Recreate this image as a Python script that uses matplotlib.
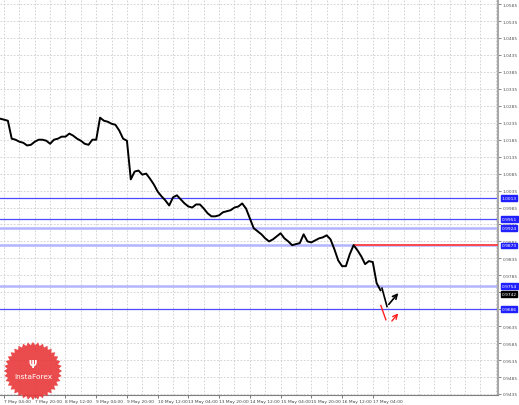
import numpy as np
import matplotlib.pyplot as plt
from matplotlib.patches import Polygon

# closing prices, one point every 2 hours (7 May 02:00 ... 17 May 08:00)
closes = [1.0247, 1.0244, 1.0241, 1.0188, 1.0185, 1.0179, 1.0176, 1.0168, 1.0170, 1.0179,
          1.0185, 1.0185, 1.0182, 1.0173, 1.0185, 1.0188, 1.0194, 1.0194, 1.0203, 1.0197,
          1.0188, 1.0182, 1.0173, 1.0170, 1.0185, 1.0185, 1.0250, 1.0241, 1.0238, 1.0232,
          1.0229, 1.0212, 1.0188, 1.0182, 1.0068, 1.0091, 1.0094, 1.0082, 1.0085, 1.0070,
          1.0053, 1.0032, 1.0018, 1.0006, 0.9991, 1.0015, 1.0021, 1.0009, 0.9997, 0.9988,
          0.9985, 0.9994, 0.9994, 0.9982, 0.9968, 0.9959, 0.9959, 0.9962, 0.9971, 0.9974,
          0.9977, 0.9985, 0.9988, 0.9997, 0.9982, 0.9953, 0.9924, 0.9915, 0.9906, 0.9894,
          0.9885, 0.9891, 0.9900, 0.9909, 0.9894, 0.9885, 0.9874, 0.9877, 0.9880, 0.9906,
          0.9885, 0.9882, 0.9888, 0.9894, 0.9897, 0.9903, 0.9891, 0.9862, 0.9829, 0.9812,
          0.9812, 0.9847, 0.9874, 0.9859, 0.9841, 0.9818, 0.9827, 0.9824, 0.9762, 0.9741]

time_labels = ['7 May 04:00', '7 May 20:00', '8 May 12:00', '9 May 04:00', '9 May 20:00',
               '10 May 12:00', '13 May 04:00', '13 May 20:00', '14 May 12:00', '15 May 04:00',
               '15 May 20:00', '16 May 12:00', '17 May 04:00']
label_pos = [1, 9, 17, 25, 33, 41, 49, 57, 65, 73, 81, 89, 97]

levels = [1.0013, 0.9951, 0.9924, 0.9873, 0.9754, 0.9686]
level_strong = [True, True, False, False, False, True]
resist_level = 0.9873
resist_start = 92
last_price = 0.9742

# forecast arrows
black_x = [99.4, 100.7, 104.1]
black_y = [0.9747, 0.9693, 0.9739]
red1_x = [99.1, 100.4]
red1_y = [0.9696, 0.9654]
red2_x = [101.5, 104.1]
red2_y = [0.9644, 0.9679]

yticks = np.arange(0.9435, 1.0586, 0.005)

fig = plt.figure(figsize=(5.19, 4.06), dpi=100)
ax = fig.add_axes([0, 10/406, 498/519, 396/406])

ax.set_xlim(-0.05, 129.6)
ax.set_ylim(0.9432, 1.0600)

# grid
for y in yticks:
    ax.axhline(y, color='#cccccc', lw=0.6, ls=(0, (2, 2)), zorder=0)
for x in np.arange(1, 130, 4):
    ax.axvline(x, color='#cccccc', lw=0.6, ls=(0, (2, 2)), zorder=0)

# support / resistance levels
for lv, strong in zip(levels, level_strong):
    if strong:
        ax.axhline(lv, color='#4a4aff', lw=0.9, zorder=2)
    else:
        ax.axhline(lv, color='#b4b4ff', lw=1.8, zorder=2)
ax.plot([resist_start, 129.6], [resist_level, resist_level], color='#ff4040', lw=1.3, zorder=3)

ax.plot(range(len(closes)), closes, color='black', lw=1.4, zorder=4)

ax.annotate('', xy=(black_x[2], black_y[2]), xytext=(black_x[1], black_y[1]),
            arrowprops=dict(arrowstyle='->', color='black', lw=1.2, mutation_scale=8), zorder=5)
ax.plot(black_x[:2], black_y[:2], color='black', lw=1.2, zorder=5)
ax.plot(red1_x, red1_y, color='#ff2020', lw=1.0, zorder=5)
ax.annotate('', xy=(red2_x[1], red2_y[1]), xytext=(red2_x[0], red2_y[0]),
            arrowprops=dict(arrowstyle='->', color='#ff2020', lw=1.0, mutation_scale=8), zorder=5)

# axes
for s in ['left', 'top']:
    ax.spines[s].set_visible(False)
ax.spines['right'].set_color('#a8a8a8')
ax.spines['right'].set_linewidth(1.5)
ax.spines['bottom'].set_color('#808080')
ax.yaxis.tick_right()
ax.set_yticks(yticks)
ax.set_yticklabels(['' if abs(v - 0.9685) < 1e-6 else '%.4f' % v for v in yticks])
ax.tick_params(axis='y', length=2, width=0.5, labelsize=3.2, pad=1.5, colors='#555555')
ax.set_xticks(label_pos)
ax.set_xticklabels(time_labels, ha='left')
ax.tick_params(axis='x', length=2, width=0.5, labelsize=3.2, pad=1, colors='#444444')

# price labels on the right
tr = ax.get_yaxis_transform()
for lv in levels:
    ax.text(1.007, lv, '%.4f' % lv, transform=tr, fontsize=3.2, color='white',
            ha='left', va='center', clip_on=False, zorder=10,
            bbox=dict(boxstyle='square,pad=0.2', fc='#2020ff', ec='#2020ff'))
ax.text(1.007, last_price - 0.0012, '%.4f' % last_price, transform=tr, fontsize=3.2,
        color='white', ha='left', va='center', clip_on=False, zorder=9,
        bbox=dict(boxstyle='square,pad=0.2', fc='black', ec='black'))

# logo
lax = fig.add_axes([3/519, 4/406, 60/519, 60/406])
lax.set_xlim(-1, 1)
lax.set_ylim(-1, 1)
lax.axis('off')
ang = np.linspace(0, 2*np.pi, 73)[:-1]
rad = np.where(np.arange(72) % 2 == 0, 0.97, 0.86)
lax.add_patch(Polygon(np.c_[rad*np.cos(ang), rad*np.sin(ang)], closed=True,
                      fc='#e8383a', ec='none', alpha=0.9))
lax.text(0, -0.18, 'InstaForex', color='white', fontsize=5.3, ha='center', va='center')
lax.text(0, 0.22, '\u03a8', color='white', fontsize=7, ha='center', va='center', fontweight='bold')

fig.savefig('out.png', dpi=100)
